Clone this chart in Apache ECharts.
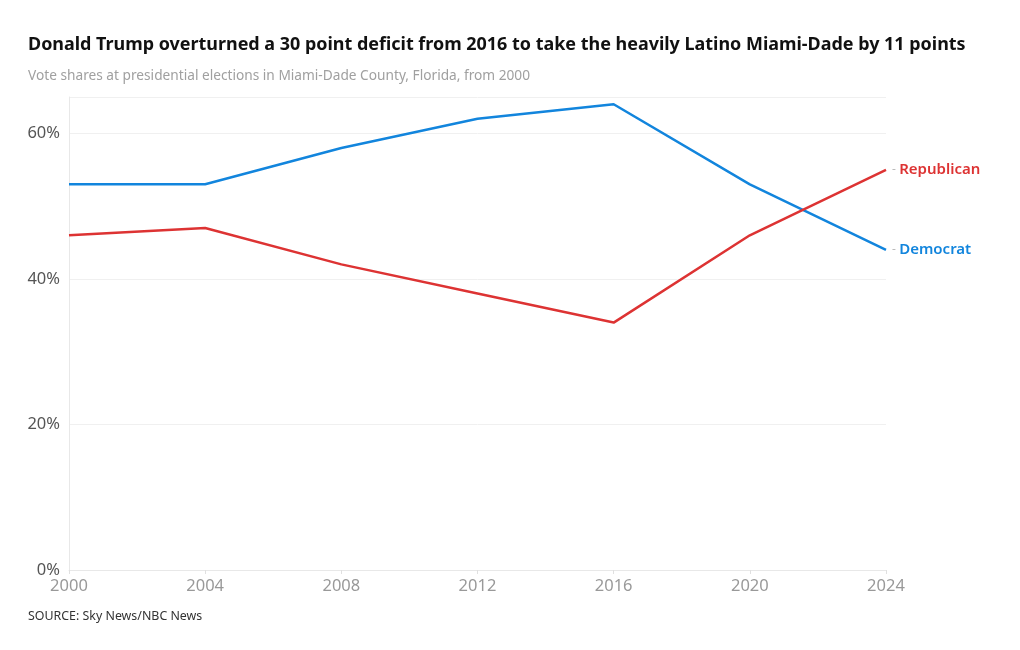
<!DOCTYPE html>
<html><head><meta charset="utf-8">
<script src="https://cdn.jsdelivr.net/npm/echarts@6/dist/echarts.min.js"></script>
<style>html,body{margin:0;padding:0;background:#fff}#c{width:1020px;height:650px}</style>
</head><body><div id="c"></div>
<script>
const years = [2000, 2004, 2008, 2012, 2016, 2020, 2024];
const democrat = [53, 53, 58, 62, 64, 53, 44];
const republican = [46, 47, 42, 38, 34, 46, 55];
const yTicks = [0, 20, 40, 60];

const FONT = '"Noto Sans", Inter, sans-serif';
const chart = echarts.init(document.getElementById('c'));
function ser(name, vals, color) {
  return {
    name: name, type: 'line', data: years.map((y, i) => [y, vals[i]]),
    symbol: 'none', lineStyle: { color: color, width: 2.5 }, itemStyle: { color: color },
    animation: false,
    endLabel: {
      show: true, distance: 6,
      formatter: '{d|-} {n|' + name + '}',
      rich: {
        d: { color: '#bbb', fontSize: 12, fontFamily: FONT },
        n: { color: color, fontSize: 15, fontWeight: 600, fontFamily: FONT }
      }
    }
  };
}
chart.setOption({
  animation: false,
  title: [
    { text: 'Donald Trump overturned a 30 point deficit from 2016 to take the heavily Latino Miami-Dade by 11 points',
      left: 23, top: 31, textStyle: { fontSize: 17.95, fontWeight: 700, color: '#111', fontFamily: FONT } },
    { text: 'Vote shares at presidential elections in Miami-Dade County, Florida, from 2000',
      left: 23, top: 64, textStyle: { fontSize: 13.7, fontWeight: 400, color: '#a0a0a0', fontFamily: FONT } },
    { text: 'SOURCE: Sky News/NBC News',
      left: 23, top: 605, textStyle: { fontSize: 12.4, fontWeight: 400, color: '#333', fontFamily: FONT } }
  ],
  grid: { left: 69, right: 134, top: 97, bottom: 80 },
  xAxis: {
    type: 'value', min: 2000, max: 2024, interval: 4,
    axisLine: { show: true, lineStyle: { color: '#e8e8e8' } },
    axisTick: { show: true, length: 4, lineStyle: { color: '#e0e0e0' } },
    splitLine: { show: false },
    axisLabel: { color: '#999', fontSize: 16.5, fontFamily: FONT, margin: 8, formatter: v => String(v) }
  },
  yAxis: {
    type: 'value', min: 0, max: 65, interval: 20,
    axisLine: { show: true, lineStyle: { color: '#e8e8e8' } },
    axisTick: { show: false },
    splitLine: { show: true, lineStyle: { color: '#f0f0f0' } },
    axisLabel: { color: '#555', fontSize: 16.5, fontFamily: FONT, margin: 9,
      formatter: v => yTicks.indexOf(v) >= 0 ? v + '%' : '' }
  },
  series: [ser('Democrat', democrat, '#1285dd'), ser('Republican', republican, '#dd3333')]
});
</script></body></html>
